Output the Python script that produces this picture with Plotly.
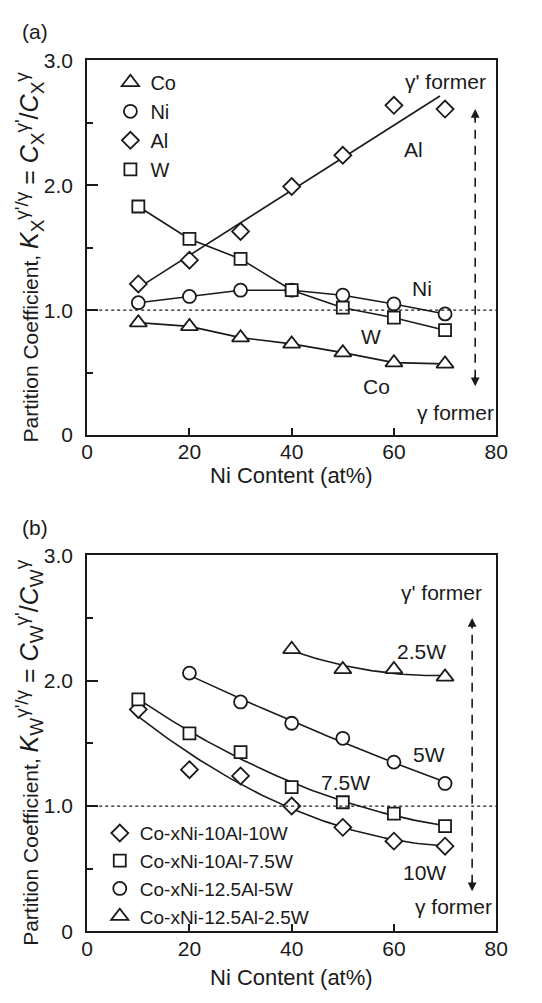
import numpy as np
import plotly.graph_objects as go

# ---------------- data ----------------
ni_a = [10, 20, 30, 40, 50, 60, 70]
co_a = [0.90, 0.87, 0.78, 0.73, 0.66, 0.58, 0.57]
nik_a = [1.06, 1.11, 1.16, 1.16, 1.12, 1.05, 0.97]
al_a = [1.21, 1.40, 1.63, 1.99, 2.24, 2.64, 2.61]
w_a = [1.83, 1.57, 1.41, 1.16, 1.02, 0.94, 0.84]
al_fit_range = [10, 69]

ni_10w = [10, 20, 30, 40, 50, 60, 70]
k_10w = [1.77, 1.29, 1.24, 1.00, 0.83, 0.72, 0.68]
ni_75w = [10, 20, 30, 40, 50, 60, 70]
k_75w = [1.85, 1.58, 1.43, 1.15, 1.03, 0.94, 0.84]
ni_5w = [20, 30, 40, 50, 60, 70]
k_5w = [2.06, 1.83, 1.66, 1.54, 1.35, 1.18]
ni_25w = [40, 50, 60, 70]
k_25w = [2.25, 2.09, 2.09, 2.03]

x_ticks = [0, 20, 40, 60, 80]
y_ticks = [0, 1, 2, 3]
y_ticktext = ["0", "1.0", "2.0", "3.0"]

FONT = "Liberation Sans, Arial, sans-serif"
BLACK = "#1a1a1a"

W, H = 542, 1003
def px(rx):
    return rx / W
def py(ry):
    return 1 - ry / H

fig = go.Figure()

def line(x, y, xa, ya):
    fig.add_trace(go.Scatter(x=x, y=y, mode="lines", xaxis=xa, yaxis=ya,
                             line=dict(color=BLACK, width=1.6),
                             showlegend=False, hoverinfo="skip"))

def marks(x, y, xa, ya, sym, size, name, legend):
    fig.add_trace(go.Scatter(x=x, y=y, mode="markers", xaxis=xa, yaxis=ya, name=name,
                             legend=legend,
                             marker=dict(symbol=sym, size=size, color="white",
                                         line=dict(color=BLACK, width=1.8))))

# ---------- panel (a) ----------
line(ni_a, co_a, "x", "y")
line(ni_a, nik_a, "x", "y")
line(ni_a, w_a, "x", "y")
p = np.polyfit(ni_a, al_a, 1)
xf = np.linspace(al_fit_range[0], al_fit_range[1], 50)
line(xf, np.polyval(p, xf), "x", "y")

marks(ni_a, co_a, "x", "y", "triangle-up", 15, "Co", "legend")
marks(ni_a, nik_a, "x", "y", "circle", 13, "Ni", "legend")
marks(ni_a, al_a, "x", "y", "diamond", 13, "Al", "legend")
marks(ni_a, w_a, "x", "y", "square", 12, "W", "legend")

# ---------- panel (b) ----------
series_b = [
    (ni_10w, k_10w, "diamond", 13, "Co-xNi-10Al-10W"),
    (ni_75w, k_75w, "square", 12, "Co-xNi-10Al-7.5W"),
    (ni_5w, k_5w, "circle", 13, "Co-xNi-12.5Al-5W"),
    (ni_25w, k_25w, "triangle-up", 15, "Co-xNi-12.5Al-2.5W"),
]
for xs, ys, sym, sz, nm in series_b:
    c = np.polyfit(xs, ys, 2)
    xx = np.linspace(min(xs), max(xs), 80)
    line(xx, np.polyval(c, xx), "x2", "y2")
for xs, ys, sym, sz, nm in series_b:
    marks(xs, ys, "x2", "y2", sym, sz, nm, "legend2")

# ---------- axes ----------
xdom = [px(84), px(507)]
axis_common = dict(showline=True, linecolor=BLACK, linewidth=2, mirror=True,
                   showgrid=False, zeroline=False, ticks="inside",
                   tickcolor=BLACK, tickwidth=1.6,
                   tickfont=dict(family=FONT, size=21, color=BLACK))
xa = dict(axis_common, range=[0, 80], tickvals=x_ticks, ticklen=7,
          domain=xdom, ticklabelstandoff=-3)
ya = dict(axis_common, range=[0, 3], tickvals=y_ticks, ticktext=y_ticktext,
          ticklen=11, ticklabelstandoff=8,
          minor=dict(tickvals=[0.5, 1.5, 2.5], ticklen=6, ticks="inside",
                     tickcolor=BLACK, tickwidth=1.6))
fig.update_layout(
    xaxis=dict(xa, anchor="y"),
    yaxis=dict(ya, anchor="x", domain=[py(433), py(49.5)]),
    xaxis2=dict(xa, anchor="y2"),
    yaxis2=dict(ya, anchor="x2", domain=[py(941), py(556)]),
)

# dotted reference line at K = 1
for xr, yr in [("x domain", "y"), ("x2 domain", "y2")]:
    fig.add_shape(type="line", xref=xr, yref=yr, x0=0, x1=1, y0=1, y1=1,
                  line=dict(color=BLACK, width=1.2, dash="dot"))

# dashed double arrows
arrows = [("x", "y", 75.9, 0.45, 2.55), ("x2", "y2", 75.3, 0.38, 2.44)]
for xr, yr, ax_, y0, y1 in arrows:
    fig.add_shape(type="line", xref=xr, yref=yr, x0=ax_, x1=ax_, y0=y0, y1=y1,
                  line=dict(color=BLACK, width=1.6, dash="9px,7px"))
    fig.add_annotation(x=ax_, y=y1 + 0.06, xref=xr, yref=yr, ax=0, ay=12,
                       showarrow=True, arrowhead=2, arrowsize=1.1, arrowwidth=1.6,
                       arrowcolor=BLACK, text="")
    fig.add_annotation(x=ax_, y=y0 - 0.06, xref=xr, yref=yr, ax=0, ay=-12,
                       showarrow=True, arrowhead=2, arrowsize=1.1, arrowwidth=1.6,
                       arrowcolor=BLACK, text="")

def txt(x, y, s, xr, yr, size=21, **kw):
    fig.add_annotation(x=x, y=y, xref=xr, yref=yr, text=s, showarrow=False,
                       xanchor="center", yanchor="middle",
                       font=dict(family=FONT, size=size, color=BLACK), **kw)

# in-plot labels (a)
txt(70.1, 2.83, "γ' former", "x", "y")
txt(72.0, 0.18, "γ former", "x", "y")
txt(63.8, 2.29, "Al", "x", "y")
txt(65.4, 1.17, "Ni", "x", "y")
txt(55.6, 0.79, "W", "x", "y")
txt(56.6, 0.39, "Co", "x", "y")
# in-plot labels (b)
txt(69.4, 2.70, "γ' former", "x2", "y2")
txt(71.7, 0.20, "γ former", "x2", "y2")
txt(65.4, 2.23, "2.5W", "x2", "y2")
txt(66.8, 1.41, "5W", "x2", "y2")
txt(50.5, 1.19, "7.5W", "x2", "y2")
txt(66.0, 0.47, "10W", "x2", "y2")

# panel letters
txt(px(30), py(20), "(a)", "paper", "paper")
txt(px(30), py(528), "(b)", "paper", "paper")

# axis titles
xc = (xdom[0] + xdom[1]) / 2
txt(xc, py(474), "Ni Content (at%)", "paper", "paper", size=22)
txt(xc, py(988), "Ni Content (at%)", "paper", "paper", size=22)

def small(s):
    return f"<span style=\"font-size:19px\">{s}</span>"

def ytitle(el):
    return ("Partition Coefficient, <span style=\"font-size:25px\">"
            f"<i>K</i><sub>{small(el)}</sub><sup>{small(chr(947) + chr(39) + '/' + chr(947))}</sup>"
            f" = <i>C</i><sub>{small(el)}</sub><sup>{small(chr(947) + chr(39))}</sup>"
            f"/<i>C</i><sub>{small(el)}</sub><sup>{small(chr(947))}</sup></span>")

txt(px(24), py(251), ytitle("X"), "paper", "paper", textangle=-90)
txt(px(24), py(758), ytitle("W"), "paper", "paper", textangle=-90)

fig.update_layout(
    width=W, height=H,
    margin=dict(l=0, r=0, t=0, b=0),
    paper_bgcolor="white", plot_bgcolor="white",
    font=dict(family=FONT, color=BLACK),
    legend=dict(x=px(108), y=py(52), xanchor="left", yanchor="top",
                bgcolor="rgba(0,0,0,0)", font=dict(family=FONT, size=20, color=BLACK),
                itemclick=False),
    legend2=dict(x=px(97), y=py(821), xanchor="left", yanchor="top",
                 bgcolor="rgba(0,0,0,0)", font=dict(family=FONT, size=19, color=BLACK),
                 itemclick=False),
)

fig.write_html("out.html")
